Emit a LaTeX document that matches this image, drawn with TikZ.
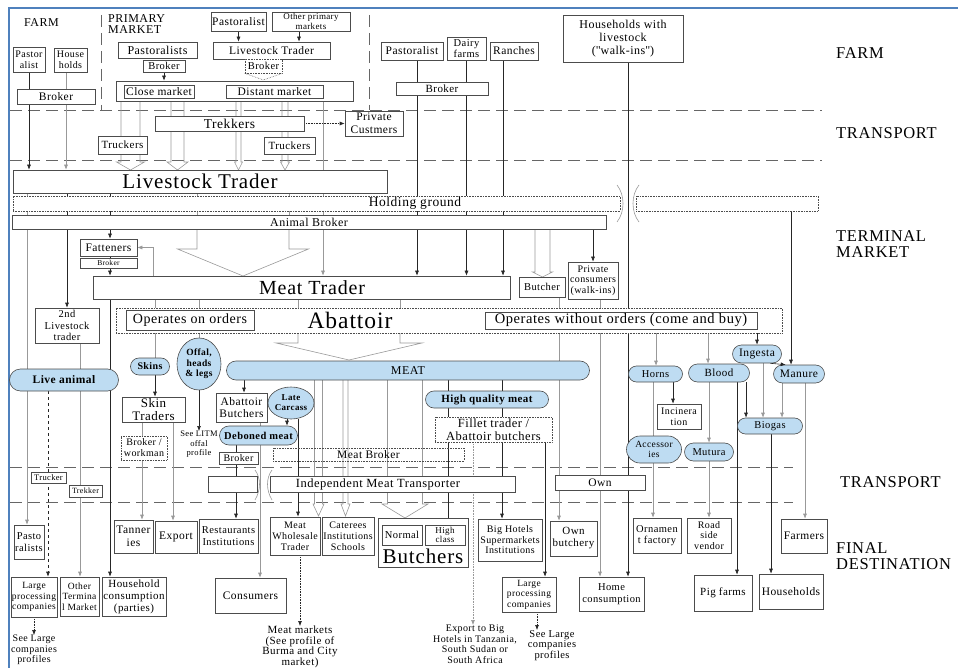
\documentclass[tikz,border=0pt]{standalone}
\usepackage{fontspec}
\setmainfont{Liberation Serif}[LetterSpace=4]
\usetikzlibrary{arrows.meta,shapes.misc,shapes.geometric,backgrounds}
\definecolor{pillblue}{RGB}{190,220,242}
\definecolor{frameblue}{RGB}{79,129,189}
\tikzset{
  box/.style={draw=black!70, fill=white, line width=.6pt, inner sep=.5pt, align=center},
  dbox/.style={box, densely dotted},
  pill/.style={rounded rectangle, draw=black!70, fill=pillblue, line width=.6pt, inner sep=.5pt, align=center},
  oval/.style={ellipse, draw=black!70, fill=pillblue, line width=.6pt, inner sep=0pt, align=center},
  sz/.style 2 args={minimum width=#1pt, minimum height=#2pt},
  fs/.style 2 args={font=\fontsize{#1}{#2}\selectfont},
  fsb/.style 2 args={font=\fontsize{#1}{#2}\selectfont\bfseries},
  lbl/.style={inner sep=0pt, align=center},
  sect/.style={lbl, align=left, anchor=west, fs={16.5}{16.5}},
  ln/.style={draw=black!85, line width=.6pt},
  lg/.style={draw=black!40, line width=.6pt},
  sep/.style={draw=black!60, line width=.6pt, dash pattern=on 12pt off 6pt},
  hollow/.style={draw=black!40, line width=.6pt}
}
% hollow block arrow: x, top, neck, half body, half head, tip
\newcommand\blockarrow[6]{%
  \draw[hollow] ({#1-#4},#2) -- ({#1-#4},#3) -- ({#1-#5},#3) -- (#1,#6)
    -- ({#1+#5},#3) -- ({#1+#4},#3) -- ({#1+#4},#2);}

\begin{document}
\begin{tikzpicture}[x=1pt, y=-1pt, >={Latex[length=5pt,width=4pt]}]
\useasboundingbox (0,0) rectangle (958,668);
\draw[frameblue, line width=1.5pt] (9,668) -- (9,8) -- (958,8);

% stage labels
\node[sect] (sfarm) at (836,53) {FARM};
\node[sect] (stran1) at (836,133) {TRANSPORT};
\node[sect] (sterm) at (836,244) {TERMINAL\\MARKET};
\node[sect] (stran2) at (840,482) {TRANSPORT};
\node[sect] (sfinal) at (836,556) {FINAL\\DESTINATION};

% farm and primary market
\node[lbl, fs={12}{12}, anchor=west] (lfarm) at (24,23) {FARM};
\node[lbl, fs={12}{11.5}, anchor=north west, align=left] (lprim) at (108,14) {PRIMARY\\MARKET};
\node[box, sz={32}{25}, fs={10}{11}] (pst1) at (29,59.5) {Pastor\\alist};
\node[box, sz={33}{24}, fs={10}{11}] (hh) at (70.5,60) {House\\holds};
\node[box, sz={78}{15}, fs={11.5}{12}] (brk1) at (56,96.5) {Broker};
\node[box, sz={79}{16}, fs={12}{13}] (psts) at (157.5,50) {Pastoralists};
\node[box, sz={42}{12}, fs={10.5}{11}] (brk2) at (164,66) {Broker};
\node[box, sz={55}{19}, fs={11.5}{12}] (pst2) at (238.5,21.5) {Pastoralist};
\node[box, sz={78}{19}, fs={9}{9.5}] (opm) at (311,21.5) {Other primary\\markets};
\node[box, sz={117}{17}, fs={11.5}{12}] (lt1) at (271.5,50.5) {Livestock Trader};
\node[dbox, sz={37}{14}, fs={10.5}{11}] (brk3) at (263.5,66) {Broker};
\node[box, sz={237}{20}] (pm) at (234.5,91) {};
\node[box, sz={70}{13}, fs={11.5}{12}] (cm) at (159,91.5) {Close market};
\node[box, sz={97}{13}, fs={11.5}{12}] (dm) at (274.5,91.5) {Distant market};
\node[box, sz={62}{18}, fs={11.5}{12}] (pst3) at (412,51) {Pastoralist};
\node[box, sz={39}{23}, fs={10.5}{10.5}] (dairy) at (466.5,48.5) {Dairy\\farms};
\node[box, sz={48}{18}, fs={11.5}{12}] (ranch) at (514,51) {Ranches};
\node[box, sz={92}{13}, fs={11}{12}] (brk4) at (442,88.5) {Broker};
\node[box, sz={120}{47}, fs={12}{13}] (hwl) at (623,38.5) {Households with\\livestock\\(\textquotedbl walk-ins\textquotedbl)};

% transport to terminal market
\node[box, sz={149}{15}, fs={13.5}{14}] (trek) at (229.5,123.5) {Trekkers};
\node[box, sz={58}{25}, fs={11.5}{12.5}] (pcus) at (374,123.5) {Private\\Custmers};
\node[box, sz={49}{18}, fs={11}{12}] (trk1) at (122.5,145) {Truckers};
\node[box, sz={51}{17}, fs={11}{12}] (trk2) at (289.5,145.5) {Truckers};

% terminal market
\node[box, sz={374}{23}, fs={21}{22}] (lt2) at (200,181.5) {Livestock Trader};
\node[dbox, sz={607}{15}] (hg1) at (316.5,203.5) {};
\node[dbox, sz={182}{15}] (hg2) at (727,203.5) {};
\node[lbl, fs={13.5}{14}] (hgl) at (415,203.5) {Holding ground};
\node[box, sz={594}{14}, fs={12}{13}] (ab) at (309,222) {Animal Broker};
\node[box, sz={57}{17}, fs={11.5}{12}] (fat) at (108.5,247.5) {Fatteners};
\node[box, sz={57}{10}, fs={7.5}{8}] (brk5) at (108.5,263) {Broker};
\node[box, sz={417}{23}] (mt) at (301.5,287.5) {};
\node[lbl, fs={20}{21}] (mtl) at (312,288) {Meat Trader};
\node[box, sz={46}{20}, fs={10.5}{11}] (butch) at (542,287) {Butcher};
\node[box, sz={50}{37}, fs={10}{10.5}] (pcon) at (593,280.5) {Private\\consumers\\(walk-ins)};
\node[box, sz={64}{35}, fs={10.5}{11.5}] (lt3) at (67,325.5) {2nd\\Livestock\\trader};
\node[dbox, sz={666}{25}] (abt) at (449,320.5) {};
\node[lbl, fs={23.5}{24}] (abtl) at (350,320) {Abattoir};
\node[box, sz={128}{20}, fs={14}{15}] (ooo) at (190,320) {Operates on orders};
\node[box, sz={272}{17}, fs={14.5}{15}] (owo) at (621,320.5) {Operates without orders (come and buy)};

% products
\node[pill, sz={110}{22}, fsb={11.5}{12}] (live) at (64,380) {Live animal};
\node[pill, sz={40}{17}, fsb={10}{11}] (skins) at (150,366.5) {Skins};
\node[oval, sz={44}{52}, fsb={9.5}{10.5}] (offal) at (199,364) {Offal,\\heads\\\& legs};
\node[pill, sz={364}{19}, fs={12}{13}] (meat) at (408,370.5) {MEAT};
\node[box, sz={63}{25}, fs={13}{13.5}] (skt) at (153.5,409.5) {Skin\\Traders};
\node[dbox, sz={46}{24}, fs={10}{11}] (bw) at (144,448) {Broker /\\workman};
\node[lbl, fs={8.5}{9.5}, anchor=north] (litm) at (199,431) {See LITM\\offal\\profile};
\node[box, sz={51}{29}, fs={11.5}{12.5}] (abb) at (241.5,407.5) {Abattoir\\Butchers};
\node[oval, sz={46}{32}, fsb={9}{10}] (late) at (291,403) {Late\\Carcass};
\node[pill, sz={79}{19}, fsb={10.5}{11}] (deb) at (258.5,435.5) {Deboned meat};
\node[box, sz={39}{12}, fs={10}{11}] (brk6) at (238.5,458) {Broker};
\node[dbox, fill=none, sz={191}{13}, fs={11.5}{12}] (mbr) at (368.5,454.5) {Meat Broker};
\node[pill, sz={124}{17}, fsb={11}{12}] (hqm) at (487,399.5) {High quality meat};
\node[dbox, sz={117}{25}, fs={12.5}{13}] (fil) at (493.5,429.5) {Fillet trader /\\Abattoir butchers};
\node[pill, sz={55}{16}, fs={10.5}{11}] (horns) at (655.5,374) {Horns};
\node[pill, sz={62}{18}, fs={11}{12}] (blood) at (719,373) {Blood};
\node[pill, sz={50}{18}, fs={11.5}{12}] (ing) at (757,354) {Ingesta};
\node[pill, sz={52}{18}, fs={11.5}{12}] (man) at (799,374) {Manure};
\node[pill, sz={66}{16}, fs={10.5}{11}] (bio) at (770,426) {Biogas};
\node[box, sz={44}{25}, fs={10}{11}] (inc) at (679,416.5) {Incinera\\tion};
\node[pill, sz={56}{27}, fs={9.5}{10.5}] (acc) at (654,449.5) {Accessor\\ies};
\node[pill, sz={50}{18}, fs={10.5}{11}] (mut) at (709,452) {Mutura};

% transport to final destination
\node[box, sz={35}{11}, fs={8.5}{9}] (trkr) at (48.5,477.5) {Trucker};
\node[box, sz={33}{12}, fs={8}{9}] (trkk) at (85.5,491) {Trekker};
\node[box, sz={49}{16}] (imt0) at (232.5,484) {};
\node[box, sz={245}{16}] (imt) at (392.5,484) {};
\node[lbl, fs={12.5}{13}] (imtl) at (378,484) {Independent Meat Transporter};
\node[box, sz={90}{15}, fs={11.5}{12}] (own) at (600,482.5) {Own};

% final destination
\node[box, sz={30}{34}, fs={10.5}{12}] (fpst) at (29,542) {Pasto\\ralists};
\node[box, sz={46}{40}, fs={9.5}{10.5}] (lpc1) at (34,597) {Large\\processing\\companies};
\node[box, sz={39}{39}, fs={9.5}{10.5}] (otm) at (79.5,596.5) {Other\\Termina\\l Market};
\node[box, sz={64}{39}, fs={11}{12}] (hcp) at (134,596.5) {Household\\consumption\\(parties)};
\node[lbl, fs={10}{10.5}, anchor=north] (slc1) at (34,635) {See Large\\companies\\profiles};
\node[box, sz={39}{33}, fs={11.5}{12.5}] (tan) at (133.5,536.5) {Tanner\\ies};
\node[box, sz={42}{32}, fs={11.5}{12}] (exp) at (176,537) {Export};
\node[box, sz={59}{34}, fs={10.5}{12}] (rest) at (228.5,536) {Restaurants\\Institutions};
\node[box, sz={71}{35}, fs={11.5}{12}] (cons) at (250.5,595.5) {Consumers};
\node[box, sz={50}{38}, fs={10}{11}] (mwt) at (295,536) {Meat\\Wholesale\\Trader};
\node[box, sz={52}{38}, fs={10}{11}] (cat) at (348,536) {Caterees\\Institutions\\Schools};
\node[box, sz={90}{49}] (butb) at (423,542.5) {};
\node[lbl, fs={21}{22}] (butl) at (423,556) {Butchers};
\node[box, sz={40}{20}, fs={10.5}{11}] (norm) at (402,535) {Normal};
\node[box, sz={40}{20}, fs={9}{9.5}] (hcls) at (445,535) {High\\class};
\node[lbl, fs={11}{10.5}, anchor=north] (mm) at (300,626) {Meat markets\\(See profile of\\Burma and City\\market)};
\node[box, sz={64}{42}, fs={10}{10.5}] (bhs) at (510,540) {Big Hotels\\Supermarkets\\Institutions};
\node[box, sz={47}{35}, fs={11}{12}] (ownb) at (573.5,538.5) {Own\\butchery};
\node[box, sz={54}{35}, fs={9.5}{10.5}] (lpc2) at (529,594.5) {Large\\processing\\companies};
\node[lbl, fs={10.5}{10.5}, anchor=north] (slc2) at (552,630) {See Large\\companies\\profiles};
\node[lbl, fs={10}{10.5}, anchor=north] (exb) at (475,625) {Export to Big\\Hotels in Tanzania,\\South Sudan or\\South Africa};
\node[box, sz={65}{34}, fs={10.5}{12}] (homec) at (611.5,594) {Home\\consumption};
\node[box, sz={48}{35}, fs={10.5}{11.5}] (orn) at (657,535.5) {Ornamen\\t factory};
\node[box, sz={44}{35}, fs={10}{10.5}] (rsv) at (709,535.5) {Road\\side\\vendor};
\node[box, sz={46}{34}, fs={11.5}{12}] (farm) at (804,536) {Farmers};
\node[box, sz={58}{36}, fs={11}{12}] (pig) at (723,593) {Pig farms};
\node[box, sz={64}{35}, fs={11.5}{12}] (hhs) at (791,591.5) {Households};
\draw[ln,->] (ing.-35) -- (man.145);

\begin{pgfonlayer}{background}
  % stage separators
  \draw[sep] (10,110) -- (822,110);
  \draw[sep] (101,15) -- (101,110);
  \draw[sep] (369,15) -- (369,110);
  \draw[sep] (10,160) -- (822,160);
  \draw[sep] (10,467) -- (793,467);
  \draw[sep] (10,502) -- (793,502);
  \draw[lg] (617,185) .. controls (625,195) and (625,212) .. (617,222);
  \draw[lg] (639,185) .. controls (631,195) and (631,212) .. (639,222);
  \draw[lg] (255,470) .. controls (261,478) and (261,490) .. (255,500);
  \draw[lg] (272,470) .. controls (266,478) and (266,490) .. (272,500);

  % farm and primary market
  \draw[ln,->] (pst1.south) -- (pst1.south |- lt2.north);
  \draw[lg,->] (66,0 |- hh.south) -- (66,0 |- lt2.north);
  \draw[ln,->] (brk2.south) -- (brk2.south |- pm.north);
  \draw[ln,->] (pst2.south) -- (pst2.south |- lt1.north);
  \draw[ln,->] (299,0 |- opm.south) -- (299,0 |- lt1.north);
  \draw[black!60, densely dotted, line width=.6pt] (brk3.south west) -- (263.5,80) -- (brk3.south east);
  \blockarrow{130.5}{101}{162}{9.5}{14}{170}
  \blockarrow{177.5}{99}{162}{6.5}{10.5}{170}
  \blockarrow{238.5}{99}{162}{2.5}{4}{170}
  \blockarrow{285}{99}{162}{3}{4.5}{170}
  \draw[lg,->] (323,0 |- pm.south) -- (323,0 |- mt.north);
  \draw[ln, densely dotted, ->] (trek.east) -- (pcus.west);
  \draw[ln,->] (417,0 |- pst3.south) -- (417,0 |- mt.north);
  \draw[ln,->] (dairy.south) -- (dairy.south |- mt.north);
  \draw[ln,->] (503,0 |- ranch.south) -- (503,0 |- mt.north);
  \draw[ln,->] (628,0 |- hwl.south) -- (628,0 |- homec.north);

  % terminal market
  \draw[lg,->] (27,0 |- lt2.south) -- (27,0 |- fpst.north);
  \draw[ln,->] (67,0 |- lt2.south) -- (67,0 |- lt3.north);
  \draw[ln,->] (110,0 |- lt2.south) -- (110,0 |- fat.north);
  \draw[lg] (197,0 |- lt2.south) -- (197,0 |- ab.north);
  \draw[lg] (289,0 |- lt2.south) -- (289,0 |- ab.north);
  \blockarrow{243}{229}{249}{46}{65.5}{276}
  \draw[ln,->] (110,0 |- fat.south) -- (110,0 |- mt.north);
  \draw[lg,->] (153,0 |- mt.north) |- (fat.east);
  \blockarrow{542.5}{229}{272}{7.5}{10}{277}
  \draw[ln,->] (593,0 |- ab.south) -- (593,0 |- pcon.north);
  \draw[ln,->] (791,0 |- hg2.south) -- (791,0 |- man.north);

  % abattoir
  \draw[lg] (155,0 |- mt.south) -- (155,0 |- skins.north);
  \draw[lg] (199,0 |- mt.south) -- (offal.north);
  \draw[lg] (298,0 |- mt.south) -- (298,0 |- abt.north);
  \draw[lg] (400,0 |- mt.south) -- (400,0 |- abt.north);
  \blockarrow{349}{333}{343}{51}{73}{360}
  \draw[lg,->] (559,0 |- butch.south) -- (559,0 |- ownb.north);
  \draw[lg,->] (600,0 |- pcon.south) -- (600,0 |- homec.north);
  \draw[lg,->] (656,0 |- owo.south) -- (656,0 |- horns.north);
  \draw[lg,->] (708,0 |- owo.south) -- (708,0 |- blood.north);
  \draw[ln,->] (757,0 |- abt.south) -- (757,0 |- ing.north);

  % products to final destination
  \draw[ln,->] (155,0 |- skins.south) -- (155,0 |- skt.north);
  \draw[ln,->] (offal.south) -- (litm.north);
  \draw[lg,->] (142,0 |- skt.south) -- (142,0 |- tan.north);
  \draw[lg,->] (173,0 |- skt.south) -- (173,0 |- exp.north);
  \draw[ln,->] (244,0 |- meat.south) -- (244,0 |- abb.north);
  \draw[ln,->] (287,0 |- late.south) -- (287,0 |- deb.north);
  \draw[ln,->] (236,0 |- deb.south) -- (236,0 |- rest.north);
  \draw[lg,->] (260,0 |- abb.south) -- (260,0 |- cons.north);
  \draw[ln,->] (298,0 |- late.south) -- (298,0 |- mwt.north);
  \blockarrow{318.5}{380}{504}{4}{5.5}{516}
  \blockarrow{345.5}{380}{504}{2.5}{4.5}{516}
  \blockarrow{405}{380}{504}{17.5}{23}{518}
  \draw[ln,->] (448,0 |- meat.south) -- (448,0 |- hcls.north);
  \draw[ln,->] (502,0 |- meat.south) -- (502,0 |- bhs.north);
  \draw[ln,->] (545,0 |- fil.south) -- (545,0 |- lpc2.north);
  \draw[lg, densely dotted, ->] (473,0 |- fil.south) -- (473,0 |- exb.north);
  \draw[ln, densely dotted, ->] (300,0 |- mwt.south) -- (300,0 |- mm.north);
  \draw[ln, densely dotted, ->] (34,0 |- lpc1.south) -- (34,0 |- slc1.north);
  \draw[ln, densely dotted, ->] (537,0 |- lpc2.south) -- (537,0 |- slc2.north);
  \draw[ln, dashed, ->] (48,0 |- live.south) -- (48,0 |- lpc1.north);
  \draw[lg,->] (80,0 |- lt3.south) -- (80,0 |- otm.north);
  \draw[ln,->] (110,0 |- mt.south) -- (110,0 |- hcp.north);
  \draw[ln,->] (673,0 |- horns.south) -- (673,0 |- inc.north);
  \draw[lg] (653,0 |- horns.south) -- (653,0 |- acc.north);
  \draw[lg,->] (653,0 |- acc.south) -- (653,0 |- orn.north);
  \draw[lg,->] (709,0 |- blood.south) -- (709,0 |- mut.north);
  \draw[lg,->] (709,0 |- mut.south) -- (709,0 |- rsv.north);
  \draw[ln,->] (746,0 |- blood.south) -- (746,0 |- bio.north);
  \draw[ln,->] (737,0 |- blood.south) -- (737,0 |- pig.north);
  \draw[lg,->] (763,0 |- ing.south) -- (763,0 |- bio.north);
  \draw[lg,->] (782,0 |- man.south) -- (782,0 |- bio.north);
  \draw[lg,->] (805,0 |- man.south) -- (805,0 |- farm.north);
  \draw[ln,->] (771,0 |- bio.south) -- (771,0 |- hhs.north);
\end{pgfonlayer}
\end{tikzpicture}
\end{document}
